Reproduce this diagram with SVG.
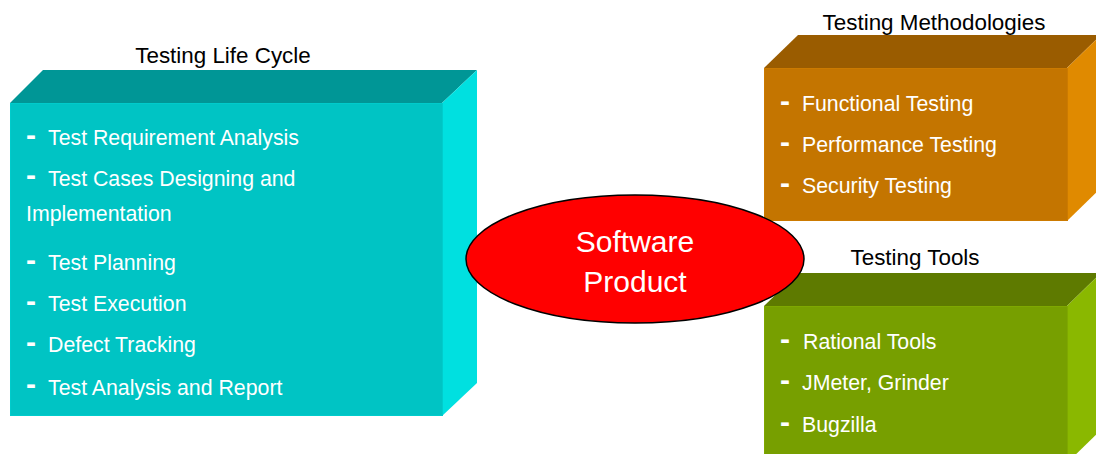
<svg xmlns="http://www.w3.org/2000/svg" width="1096" height="454" viewBox="0 0 1096 454">
<style>
.t{font-family:"Liberation Sans",Arial,sans-serif;font-size:21.3px;fill:#ffffff}
.d{font-family:"Liberation Sans",Arial,sans-serif;font-size:30px;font-weight:bold;fill:#ffffff}
.h{font-family:"Liberation Sans",Arial,sans-serif;font-size:22.4px;fill:#000000;text-anchor:middle}
.c{font-family:"Liberation Sans",Arial,sans-serif;font-size:30px;fill:#ffffff;text-anchor:middle}
</style>
<rect width="1096" height="454" fill="#ffffff"/>
<g id="lifecycle">
<text class="h" x="223" y="63">Testing Life Cycle</text>
<polygon points="10,103 43,70 477,70 442,103" fill="#009696"/>
<polygon points="442,103 477,70 477,383 442,416" fill="#00E0E0"/>
<rect x="10.5" y="103.5" width="432" height="312" fill="#00C4C4" stroke="#00CCCC" stroke-width="1"/>
<text class="d" x="26" y="145">-</text><text class="t" x="48" y="145">Test Requirement Analysis</text>
<text class="d" x="26" y="185">-</text><text class="t" x="48" y="186">Test Cases Designing and</text>
<text class="t" x="26" y="221">Implementation</text>
<text class="d" x="26" y="270">-</text><text class="t" x="48" y="270">Test Planning</text>
<text class="d" x="26" y="311">-</text><text class="t" x="48" y="311">Test Execution</text>
<text class="d" x="26" y="352">-</text><text class="t" x="48" y="352">Defect Tracking</text>
<text class="d" x="26" y="394">-</text><text class="t" x="48" y="395">Test Analysis and Report</text>
</g>
<g id="methodologies">
<text class="h" x="934" y="30">Testing Methodologies</text>
<polygon points="764,68 798,35 1101,35 1067,68" fill="#9A5C00"/>
<polygon points="1067,68 1101,35 1101,188 1067,221" fill="#E08A00"/>
<rect x="764.5" y="68.5" width="303" height="152" fill="#C47500" stroke="#CC7A00" stroke-width="1"/>
<text class="d" x="780" y="111">-</text><text class="t" x="802" y="111">Functional Testing</text>
<text class="d" x="780" y="152">-</text><text class="t" x="802" y="152">Performance Testing</text>
<text class="d" x="780" y="193">-</text><text class="t" x="802" y="193">Security Testing</text>
</g>
<g id="tools">
<text class="h" x="915" y="265">Testing Tools</text>
<polygon points="764,306 798,273 1101,273 1067,306" fill="#5E7A00"/>
<polygon points="1067,306 1101,273 1101,430 1067,463" fill="#8AB800"/>
<rect x="764.5" y="306.5" width="303" height="160" fill="#779F00" stroke="#7FA800" stroke-width="1"/>
<text class="d" x="780" y="349">-</text><text class="t" x="803" y="349">Rational Tools</text>
<text class="d" x="780" y="390">-</text><text class="t" x="802" y="390">JMeter, Grinder</text>
<text class="d" x="780" y="432">-</text><text class="t" x="802" y="432">Bugzilla</text>
</g>
<g id="connectors"></g>
<g id="product">
<ellipse cx="635" cy="259" rx="169" ry="64" fill="#FF0000" stroke="#000000" stroke-width="1.5"/>
<text class="c" x="635" y="252">Software</text>
<text class="c" x="635" y="292">Product</text>
</g>
</svg>
